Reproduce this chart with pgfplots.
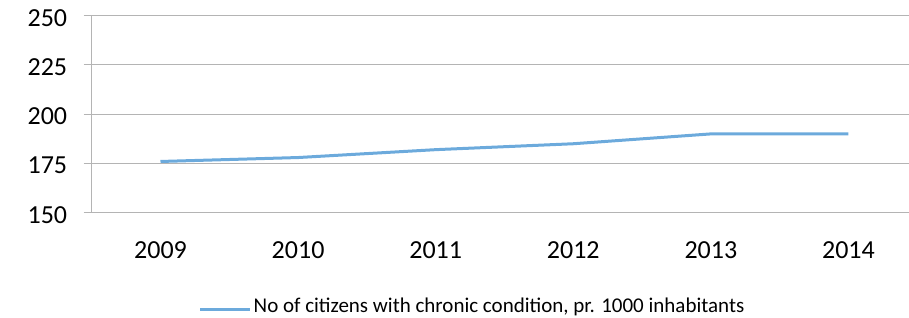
\documentclass[border=0pt]{standalone}
\usepackage{pgfplots}
\pgfplotsset{compat=1.18}
\usepackage{fontspec}
\setmainfont{Carlito}
\definecolor{lineblue}{RGB}{108,170,220}
\definecolor{gridgray}{RGB}{180,180,180}
\begin{document}
\begin{tikzpicture}
\begin{axis}[
  at={(91.7pt,105.3pt)}, anchor=south west,
  scale only axis, width=817.3pt, height=197pt,
  xmin=-0.5, xmax=5.44, ymin=150, ymax=250,
  ytick={150,175,200,225,250},
  xtick={0,1,2,3,4,5},
  xticklabels={2009,2010,2011,2012,2013,2014},
  extra x ticks={-0.5,0.5,1.5,2.5,3.5,4.5},
  extra x tick labels={},
  extra x tick style={major tick length=8pt, tick style={draw=gridgray, line width=1pt}, xticklabel=\empty},
  major x tick style={draw=none},
  ymajorgrids, grid style={draw=gridgray, line width=1pt},
  axis x line*=bottom, axis y line*=left,
  axis line style={draw=gridgray, line width=1pt, -},
  y tick style={draw=gridgray, line width=1pt},
  tick align=outside, major tick length=8pt,
  ticklabel style={font=\fontsize{26}{30}\selectfont},
  yticklabel style={xshift=-13pt, yshift=-2pt},
  xticklabel style={yshift=-17pt},
  /pgf/number format/assume math mode=true,
  legend style={at={(0.466,-0.474)}, anchor=center, draw=none, fill=none,
    font=\fontsize{21}{24}\selectfont, inner sep=0pt},
  legend image code/.code={\draw[#1] (0pt,-3pt) -- (50pt,-3pt);},
  legend cell align=left,
]
\addplot[color=lineblue, line width=3pt] coordinates {
  (0,176) (1,178) (2,182) (3,185) (4,190) (5,190)
};
\addlegendentry{No of citizens with chronic condition, pr. 1000 inhabitants}
\end{axis}
\pgfresetboundingbox
\path[use as bounding box] (0,0) rectangle (909pt,318pt);
\end{tikzpicture}
\end{document}
